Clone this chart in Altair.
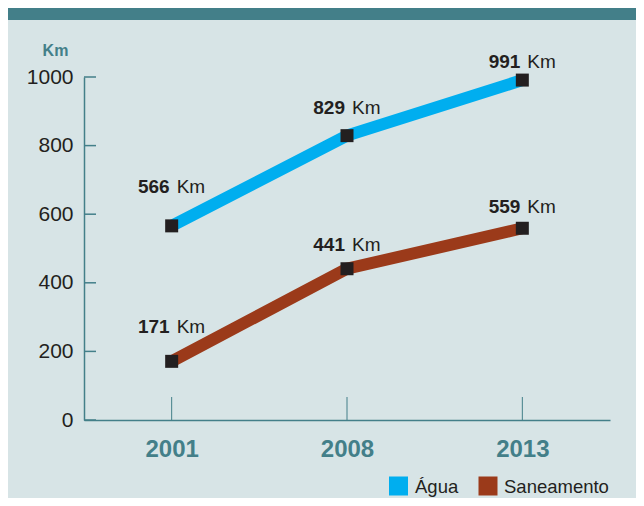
import altair as alt
import pandas as pd

years = ["2001", "2008", "2013"]
agua = [566, 829, 991]
saneamento = [171, 441, 559]
series = ["Água", "Saneamento"]
y_ticks = [0, 200, 400, 600, 800, 1000]

BG = "#d7e4e6"
TEAL = "#437f89"
DARK = "#231f20"
BLUE = "#00aeef"
BROWN = "#9b3a1a"
FONT = "Liberation Sans"

rows = []
for s, vals in zip(series, [agua, saneamento]):
    for y, v in zip(years, vals):
        rows.append({"series": s, "year": y, "value": v})
df = pd.DataFrame(rows)
tick_df = pd.DataFrame({"value": y_ticks})
year_df = pd.DataFrame({"year": years})

W, H = 526, 343
PX = 1000 / H  # data units per pixel

lift_expr = (
    "datum.series == 'Água' ? "
    "(datum.year == '2001' ? 33 : datum.year == '2008' ? 22 : 12) : "
    "(datum.year == '2001' ? 28 : datum.year == '2008' ? 18 : 15)"
)

xscale = alt.Scale(type="point", padding=0.5, domain=years)
yscale = alt.Scale(domain=[0, 1000], nice=False, zero=True)

x_axis = alt.Axis(
    title=None, labelAngle=0, ticks=False, grid=False,
    domainColor=TEAL, domainWidth=1.5,
    labelFont=FONT, labelFontSize=24, labelFontWeight="bold",
    labelColor=TEAL, labelPadding=17,
)
y_axis = alt.Axis(
    values=y_ticks, ticks=False, grid=False, format="d",
    domainColor=TEAL, domainWidth=1.5,
    labelFont=FONT, labelFontSize=21, labelColor=DARK, labelPadding=11,
    title="Km", titleAngle=0, titleAlign="center", titleBaseline="middle",
    titleX=-29, titleY=-27, titleFont=FONT, titleFontSize=16,
    titleFontWeight="bold", titleColor=TEAL,
)


def X(field="year"):
    return alt.X(f"{field}:O", scale=xscale, axis=x_axis)


def Y(field="value"):
    return alt.Y(f"{field}:Q", scale=yscale, axis=y_axis)


base = alt.Chart(df)
lines = base.mark_line(strokeWidth=12, strokeCap="butt").encode(
    x=X(),
    y=Y(),
    color=alt.Color("series:N", scale=alt.Scale(domain=series, range=[BLUE, BROWN]), legend=None),
    detail="series:N",
)

one = alt.Data(values=[{}])
band = alt.Chart(one).mark_rect(color=TEAL).encode(
    x=alt.value(-76), x2=alt.value(W + 26), y=alt.value(-69), y2=alt.value(-57)
)

ytick_rules = alt.Chart(tick_df).mark_rule(color=TEAL, strokeWidth=1.5).encode(
    y=Y(), x=alt.value(0), x2=alt.value(12),
)
xtick_rules = alt.Chart(year_df).mark_rule(color=TEAL, strokeWidth=1).encode(
    x=X(), y=alt.value(H), y2=alt.value(H - 23),
)

points = base.mark_square(size=169, color=DARK, opacity=1).encode(x=X(), y=Y())

lab = base.transform_calculate(lift=lift_expr).transform_calculate(
    label_y=f"datum.value + datum.lift * {PX}"
)
num_text = lab.mark_text(
    align="right", baseline="alphabetic", dx=-2, font=FONT, fontSize=19,
    fontWeight="bold", color=DARK,
).encode(x=X(), y=Y("label_y"), text=alt.Text("value:Q", format="d"))
km_text = lab.mark_text(
    align="left", baseline="alphabetic", dx=5, font=FONT, fontSize=19, color=DARK,
).encode(x=X(), y=Y("label_y"), text=alt.value("Km"))

LEG_Y = 409
leg_sq1 = alt.Chart(one).mark_square(size=361, color=BLUE, opacity=1).encode(
    x=alt.value(314.5), y=alt.value(LEG_Y)
)
leg_sq2 = alt.Chart(one).mark_square(size=361, color=BROWN, opacity=1).encode(
    x=alt.value(404), y=alt.value(LEG_Y)
)
leg_t1 = alt.Chart(one).mark_text(
    align="left", baseline="middle", font=FONT, fontSize=18.5, color=DARK
).encode(x=alt.value(331), y=alt.value(LEG_Y + 1), text=alt.value(series[0]))
leg_t2 = alt.Chart(one).mark_text(
    align="left", baseline="middle", font=FONT, fontSize=18.5, color=DARK
).encode(x=alt.value(420), y=alt.value(LEG_Y + 1), text=alt.value(series[1]))

chart = alt.layer(
    lines, band, ytick_rules, xtick_rules, points, num_text, km_text,
    leg_sq1, leg_sq2, leg_t1, leg_t2,
).properties(
    width=W, height=H,
    padding={"left": 76, "top": 69, "right": 26, "bottom": 78},
    autosize=alt.AutoSizeParams(type="none"),
    background=BG,
).configure_view(stroke=None)

chart.save("out.html", embed_options={"renderer": "svg", "actions": False})
